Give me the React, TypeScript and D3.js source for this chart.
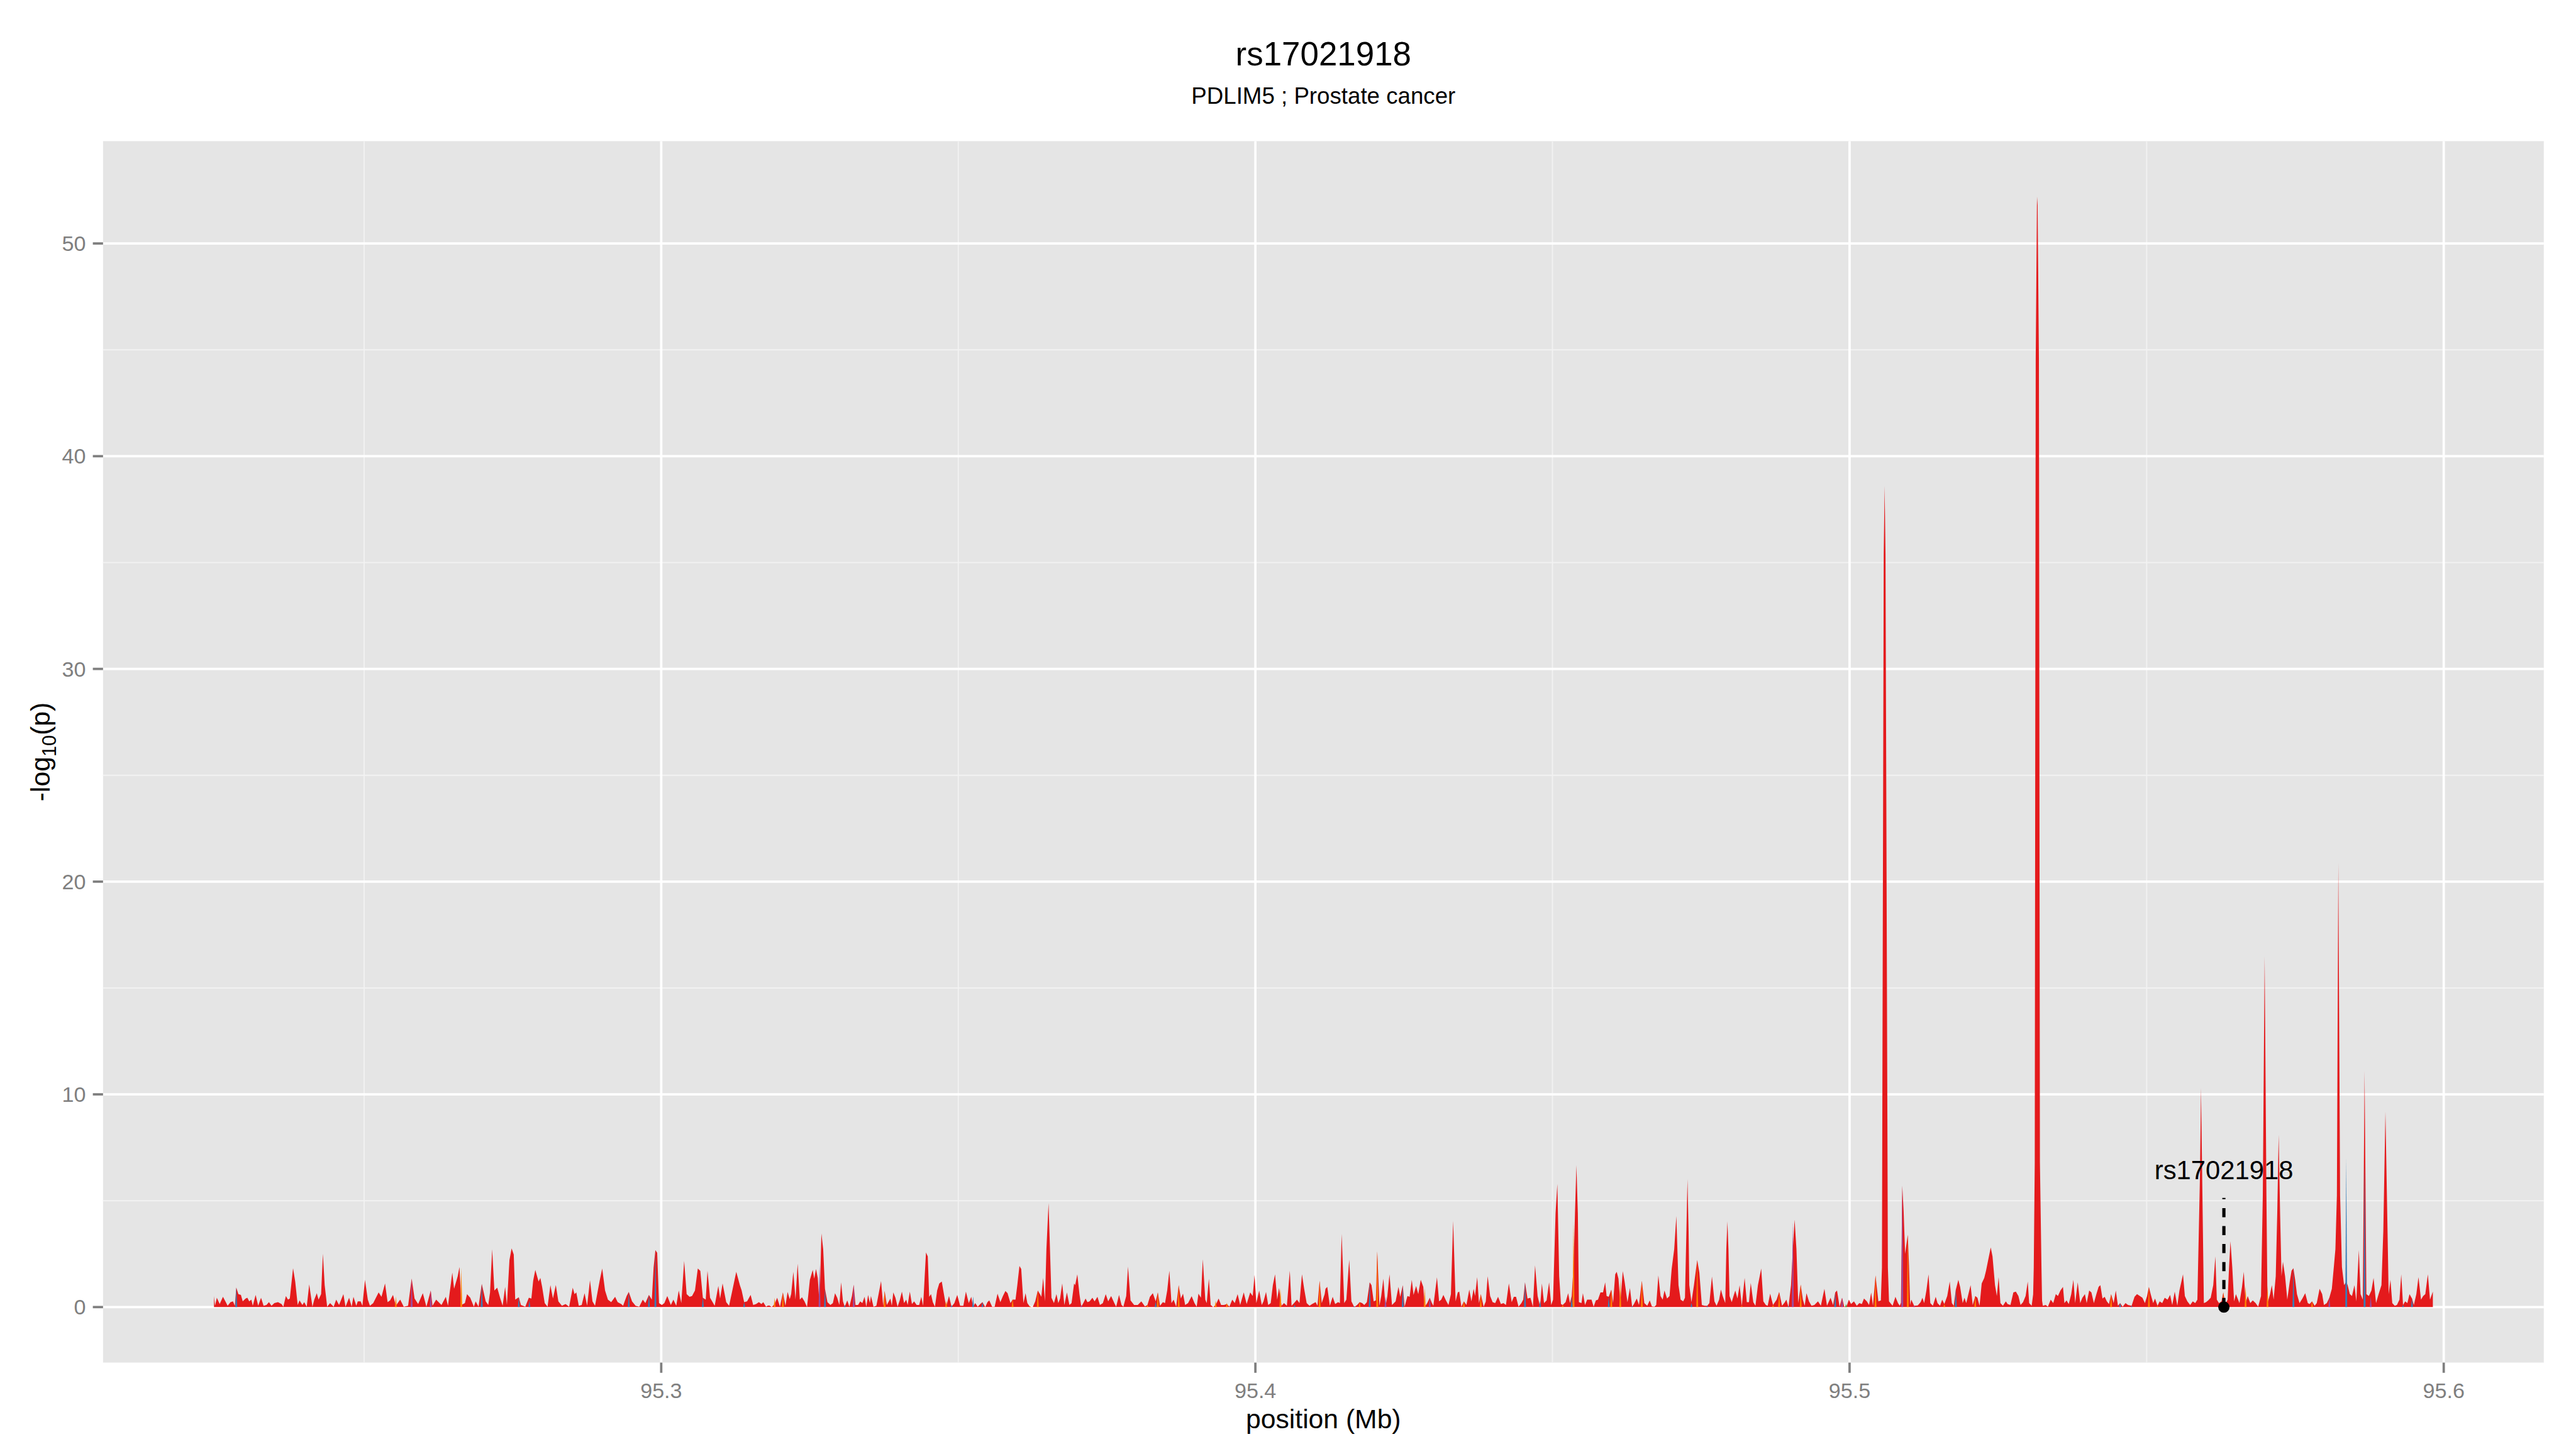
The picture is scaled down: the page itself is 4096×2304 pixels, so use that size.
import * as d3 from 'd3';

// -log10(p) along the region (position in Mb, value)
const assoc: [number, number][] = [
  [95.22473, 0.52], [95.22491, 0.06], [95.22521, 0.44], [95.22569, 0.14], [95.22624, 0.48], [95.22672, 0.23],
  [95.22703, 0.06], [95.22751, 0.23], [95.22793, 0.27], [95.22824, 0.06], [95.22848, 0.92], [95.22884, 0.61],
  [95.22926, 0.57], [95.22957, 0.27], [95.23005, 0.40], [95.23035, 0.44], [95.23066, 0.27], [95.23102, 0.35],
  [95.23126, 0.06], [95.23174, 0.57], [95.23217, 0.06], [95.23265, 0.44], [95.23308, 0.06], [95.23356, 0.10],
  [95.23398, 0.23], [95.23441, 0.06], [95.23489, 0.19], [95.23550, 0.23], [95.23610, 0.14], [95.23640, 0.02],
  [95.23683, 0.52], [95.23719, 0.35], [95.23749, 0.40], [95.23804, 1.83], [95.23840, 1.20], [95.23882, 0.10],
  [95.23913, 0.31], [95.23961, 0.10], [95.23991, 0.23], [95.24034, 0.02], [95.24076, 1.07], [95.24130, 0.02],
  [95.24161, 0.35], [95.24203, 0.65], [95.24233, 0.35], [95.24276, 0.61], [95.24306, 2.51], [95.24336, 1.03],
  [95.24378, 0.02], [95.24427, 0.19], [95.24487, 0.02], [95.24530, 0.35], [95.24578, 0.10], [95.24651, 0.61],
  [95.24687, 0.02], [95.24747, 0.44], [95.24790, 0.02], [95.24820, 0.48], [95.24868, 0.06], [95.24893, 0.27],
  [95.24941, 0.27], [95.24971, 0.06], [95.25014, 1.28], [95.25062, 0.35], [95.25098, 0.06], [95.25153, 0.19],
  [95.25244, 0.69], [95.25292, 0.48], [95.25352, 1.11], [95.25395, 0.23], [95.25437, 0.31], [95.25486, 0.57],
  [95.25534, 0.06], [95.25576, 0.23], [95.25607, 0.35], [95.25667, 0.02], [95.25740, 0.06], [95.25800, 1.34],
  [95.25849, 0.40], [95.25909, 0.14], [95.25988, 0.65], [95.26048, 0.02], [95.26121, 0.78], [95.26151, 0.06],
  [95.26212, 0.35], [95.26302, 0.10], [95.26375, 0.48], [95.26411, 0.06], [95.26484, 1.62], [95.26514, 0.86],
  [95.26575, 1.45], [95.26605, 1.89], [95.26635, 0.10], [95.26696, 0.19], [95.26732, 0.61], [95.26786, 0.44],
  [95.26847, 0.02], [95.26877, 0.27], [95.26925, 0.02], [95.26980, 1.09], [95.27046, 0.27], [95.27089, 0.10],
  [95.27119, 0.69], [95.27155, 2.72], [95.27192, 0.78], [95.27240, 0.91], [95.27288, 0.44], [95.27331, 0.06],
  [95.27373, 0.95], [95.27403, 0.10], [95.27446, 2.21], [95.27482, 2.76], [95.27518, 2.47], [95.27543, 0.35],
  [95.27603, 0.46], [95.27639, 0.10], [95.27712, 0.02], [95.27772, 0.44], [95.27815, 0.40], [95.27845, 1.24],
  [95.27881, 1.75], [95.27936, 1.20], [95.27966, 1.37], [95.27996, 0.95], [95.28039, 0.19], [95.28087, 0.02],
  [95.28135, 1.03], [95.28178, 0.40], [95.28226, 1.04], [95.28269, 0.27], [95.28329, 0.06], [95.28390, 0.14],
  [95.28450, 0.02], [95.28511, 0.91], [95.28541, 0.61], [95.28571, 0.69], [95.28613, 0.06], [95.28662, 0.10],
  [95.28710, 0.65], [95.28753, 0.06], [95.28801, 1.26], [95.28843, 0.27], [95.28886, 0.06], [95.28964, 1.24],
  [95.29007, 1.81], [95.29055, 0.78], [95.29103, 0.35], [95.29158, 0.23], [95.29224, 0.48], [95.29267, 0.23],
  [95.29327, 0.14], [95.29358, 0.06], [95.29418, 0.52], [95.29454, 0.71], [95.29509, 0.27], [95.29569, 0.06],
  [95.29630, 0.02], [95.29690, 0.35], [95.29733, 0.19], [95.29793, 0.57], [95.29842, 0.35], [95.29872, 1.86],
  [95.29902, 2.68], [95.29932, 2.55], [95.29963, 0.19], [95.30011, 0.10], [95.30053, 0.19], [95.30102, 0.52],
  [95.30162, 0.10], [95.30205, 0.35], [95.30253, 0.06], [95.30295, 0.78], [95.30338, 0.19], [95.30386, 2.17],
  [95.30428, 0.61], [95.30477, 0.48], [95.30519, 0.52], [95.30568, 0.78], [95.30616, 1.81], [95.30658, 1.70],
  [95.30701, 0.44], [95.30749, 0.35], [95.30779, 1.70], [95.30822, 0.44], [95.30900, 0.06], [95.30961, 0.99],
  [95.30991, 0.40], [95.31033, 1.11], [95.31094, 0.23], [95.31142, 0.06], [95.31203, 0.86], [95.31263, 1.66],
  [95.31324, 1.03], [95.31354, 0.78], [95.31396, 0.23], [95.31445, 0.27], [95.31505, 0.57], [95.31548, 0.10],
  [95.31596, 0.14], [95.31644, 0.23], [95.31687, 0.14], [95.31717, 0.23], [95.31765, 0.02],
  [95.31788, 0.06], [95.31818, 0.08], [95.31861, 0.00], [95.31909, 0.14], [95.31951, 0.44], [95.31999, 0.02],
  [95.32048, 0.69], [95.32091, 0.06], [95.32127, 0.71], [95.32163, 0.37], [95.32187, 0.61], [95.32224, 1.66],
  [95.32260, 0.35], [95.32296, 2.04], [95.32333, 0.35], [95.32369, 0.46], [95.32411, 0.27], [95.32454, 0.00],
  [95.32502, 1.28], [95.32550, 1.75], [95.32575, 1.33], [95.32605, 1.79], [95.32635, 1.37], [95.32665, 0.06],
  [95.32696, 3.46], [95.32726, 2.72], [95.32756, 0.86], [95.32798, 0.23], [95.32847, 0.10], [95.32889, 0.19],
  [95.32925, 0.65], [95.32962, 0.44], [95.32998, 0.10], [95.33028, 1.16], [95.33059, 0.27], [95.33089, 0.02],
  [95.33131, 0.31], [95.33167, 0.02], [95.33210, 0.52], [95.33240, 1.05], [95.33270, 0.10], [95.33313, 0.10],
  [95.33349, 0.27], [95.33385, 0.19], [95.33422, 0.48], [95.33452, 0.02], [95.33482, 0.57], [95.33512, 0.19],
  [95.33530, 0.52], [95.33573, 0.02], [95.33621, 0.06], [95.33664, 0.69], [95.33700, 1.22], [95.33736, 0.06],
  [95.33760, 0.76], [95.33797, 0.10], [95.33857, 0.40], [95.33881, 0.06], [95.33906, 0.69], [95.33942, 0.44],
  [95.33978, 0.02], [95.34014, 0.31], [95.34051, 0.73], [95.34087, 0.19], [95.34123, 0.35], [95.34148, 0.10],
  [95.34184, 0.73], [95.34220, 0.14], [95.34256, 0.27], [95.34299, 0.10], [95.34341, 0.10], [95.34377, 0.48],
  [95.34408, 0.06], [95.34456, 2.57], [95.34486, 2.38], [95.34510, 0.48], [95.34541, 0.61], [95.34571, 0.23],
  [95.34607, 0.02], [95.34644, 0.78], [95.34680, 1.11], [95.34722, 1.20], [95.34753, 0.69], [95.34795, 0.02],
  [95.34843, 0.52], [95.34886, 0.02], [95.34934, 0.19], [95.34982, 0.57], [95.35031, 0.06], [95.35085, 0.06],
  [95.35128, 0.73], [95.35176, 0.19], [95.35218, 0.48], [95.35249, 0.02], [95.35285, 0.19], [95.35327, 0.02],
  [95.35370, 0.14], [95.35406, 0.23], [95.35454, 0.00], [95.35491, 0.23], [95.35521, 0.31], [95.35569, 0.02],
  [95.35612, 0.02], [95.35660, 0.63], [95.35708, 0.23], [95.35751, 0.52], [95.35793, 0.76], [95.35829, 0.65],
  [95.35878, 0.19], [95.35914, 0.35], [95.35963, 0.35], [95.35993, 1.03], [95.36029, 1.93], [95.36059, 1.79],
  [95.36096, 0.19], [95.36132, 0.65], [95.36162, 0.19], [95.36205, 0.02], [95.36253, 0.00], [95.36295, 0.27],
  [95.36338, 0.78], [95.36374, 0.61], [95.36398, 0.48], [95.36428, 1.37], [95.36459, 0.27], [95.36483, 2.72],
  [95.36519, 4.89], [95.36543, 2.72], [95.36568, 0.44], [95.36610, 0.19], [95.36652, 0.61], [95.36683, 0.19],
  [95.36713, 0.40], [95.36749, 1.11], [95.36785, 0.10], [95.36828, 0.69], [95.36870, 0.10], [95.36906, 0.19],
  [95.36949, 1.11], [95.36967, 1.03], [95.37003, 1.54], [95.37039, 0.61], [95.37070, 0.02], [95.37112, 0.23],
  [95.37142, 0.40], [95.37173, 0.23], [95.37209, 0.27], [95.37257, 0.44], [95.37294, 0.27], [95.37342, 0.48],
  [95.37384, 0.10], [95.37433, 0.19], [95.37481, 0.61], [95.37523, 0.27], [95.37572, 0.52], [95.37626, 0.19],
  [95.37657, 0.02], [95.37705, 0.57], [95.37747, 0.10], [95.37778, 0.02], [95.37826, 0.52], [95.37856, 1.90],
  [95.37899, 0.31], [95.37959, 0.10], [95.38020, 0.10], [95.38080, 0.27], [95.38141, 0.03], [95.38183, 0.10],
  [95.38225, 0.48], [95.38274, 0.65], [95.38322, 0.27], [95.38358, 0.69], [95.38395, 0.06], [95.38443, 0.23],
  [95.38479, 0.19], [95.38516, 0.78], [95.38552, 1.71], [95.38588, 0.19], [95.38624, 0.35], [95.38667, 0.02],
  [95.38709, 1.03], [95.38746, 0.40], [95.38782, 0.63], [95.38818, 0.10], [95.38867, 0.19], [95.38927, 0.51],
  [95.38975, 0.19], [95.39012, 0.02], [95.39042, 0.63], [95.39084, 0.44], [95.39115, 2.25], [95.39157, 0.35],
  [95.39181, 0.19], [95.39217, 1.33], [95.39248, 0.10], [95.39290, 0.00], [95.39332, 0.10], [95.39381, 0.40],
  [95.39423, 0.10], [95.39472, 0.10], [95.39520, 0.14], [95.39562, 0.02], [95.39611, 0.35], [95.39653, 0.19],
  [95.39701, 0.61], [95.39744, 0.10], [95.39804, 0.69], [95.39853, 0.14], [95.39913, 0.69], [95.39955, 0.52],
  [95.39986, 1.51], [95.40016, 0.19], [95.40064, 0.78], [95.40107, 0.10], [95.40137, 0.27], [95.40179, 0.71],
  [95.40216, 0.10], [95.40258, 0.19], [95.40294, 1.03], [95.40331, 1.54], [95.40367, 0.35], [95.40397, 0.90],
  [95.40440, 0.06], [95.40482, 0.19], [95.40530, 0.06], [95.40579, 1.71], [95.40609, 0.06], [95.40651, 0.19],
  [95.40700, 0.35], [95.40742, 0.19], [95.40784, 1.54], [95.40821, 0.86], [95.40863, 0.19], [95.40911, 0.06],
  [95.40954, 0.14], [95.41014, 0.23], [95.41045, 0.06], [95.41081, 1.24], [95.41117, 0.19], [95.41166, 0.61],
  [95.41180, 0.86], [95.41210, 0.95], [95.41253, 0.06], [95.41301, 0.48], [95.41343, 0.14], [95.41392, 0.23],
  [95.41422, 0.19], [95.41452, 3.44], [95.41495, 0.19], [95.41531, 0.35], [95.41579, 2.23], [95.41616, 0.27],
  [95.41664, 0.00], [95.41712, 0.10], [95.41755, 0.23], [95.41797, 0.19], [95.41833, 0.10], [95.41876, 0.23],
  [95.41924, 1.16], [95.41954, 1.03], [95.41991, 0.27], [95.42027, 0.31], [95.42051, 2.62], [95.42088, 0.06],
  [95.42118, 0.52], [95.42154, 1.33], [95.42190, 0.02], [95.42221, 0.52], [95.42257, 1.54], [95.42299, 0.10],
  [95.42360, 0.27], [95.42408, 0.95], [95.42438, 0.48], [95.42481, 1.03], [95.42511, 0.02], [95.42559, 0.52],
  [95.42596, 0.48], [95.42632, 1.28], [95.42662, 0.57], [95.42705, 0.99], [95.42741, 0.61], [95.42783, 1.28],
  [95.42826, 0.95], [95.42850, 0.02], [95.42892, 0.19], [95.42935, 0.44], [95.42971, 0.19], [95.42995, 0.06],
  [95.43056, 1.40], [95.43092, 0.27], [95.43128, 0.35], [95.43164, 0.57], [95.43207, 0.31], [95.43249, 0.10],
  [95.43291, 0.61], [95.43328, 4.05], [95.43370, 0.27], [95.43406, 0.69], [95.43431, 0.73], [95.43467, 0.02],
  [95.43509, 0.27], [95.43552, 0.10], [95.43600, 0.82], [95.43636, 0.27], [95.43673, 0.86], [95.43697, 0.52],
  [95.43733, 1.41], [95.43763, 0.19], [95.43794, 0.61], [95.43842, 0.02], [95.43878, 0.27], [95.43909, 1.45],
  [95.43951, 0.52], [95.43993, 0.23], [95.44036, 0.19], [95.44084, 0.48], [95.44132, 0.14], [95.44175, 0.19],
  [95.44217, 0.10], [95.44266, 1.11], [95.44314, 0.23], [95.44350, 0.48], [95.44387, 0.48], [95.44429, 0.02],
  [95.44477, 0.19], [95.44508, 0.35], [95.44538, 1.16], [95.44580, 0.40], [95.44629, 0.44], [95.44671, 0.02],
  [95.44707, 1.96], [95.44750, 0.52], [95.44792, 0.02], [95.44822, 1.11], [95.44858, 0.19], [95.44901, 0.31],
  [95.44943, 1.16], [95.44979, 0.10], [95.45010, 0.35], [95.45052, 4.41], [95.45082, 5.79], [95.45113, 1.45],
  [95.45143, 0.14], [95.45173, 0.10], [95.45221, 0.23], [95.45264, 0.65], [95.45294, 0.19], [95.45324, 0.52],
  [95.45354, 1.88], [95.45379, 4.41], [95.45403, 6.67], [95.45427, 4.41], [95.45445, 0.23], [95.45488, 0.19],
  [95.45512, 0.65], [95.45548, 0.10], [95.45584, 0.35], [95.45657, 0.35], [95.45693, 0.02], [95.45730, 0.31],
  [95.45766, 0.35], [95.45808, 0.69], [95.45851, 0.69], [95.45887, 1.16], [95.45911, 0.52], [95.45947, 0.48],
  [95.45990, 0.82], [95.46020, 0.19], [95.46056, 1.54], [95.46081, 1.66], [95.46111, 1.33], [95.46141, 0.19],
  [95.46183, 1.69], [95.46214, 1.20], [95.46262, 0.23], [95.46304, 0.90], [95.46341, 0.02], [95.46371, 0.14],
  [95.46419, 0.40], [95.46456, 0.10], [95.46504, 1.24], [95.46546, 0.19], [95.46595, 0.06], [95.46637, 0.31],
  [95.46673, 0.03], [95.46716, 0.02], [95.46746, 0.10], [95.46782, 1.49], [95.46819, 0.52], [95.46855, 0.35],
  [95.46885, 0.78], [95.46928, 0.40], [95.46970, 0.52], [95.47006, 1.79], [95.47049, 2.72], [95.47085, 4.28],
  [95.47121, 1.03], [95.47157, 0.35], [95.47200, 0.27], [95.47230, 0.44], [95.47254, 3.56], [95.47272, 6.01],
  [95.47291, 3.56], [95.47303, 1.03], [95.47339, 0.23], [95.47381, 1.03], [95.47436, 2.21], [95.47472, 1.62],
  [95.47514, 0.10], [95.47563, 0.06], [95.47605, 0.06], [95.47641, 0.19], [95.47684, 1.44], [95.47726, 0.27],
  [95.47762, 0.06], [95.47805, 0.35], [95.47835, 0.82], [95.47865, 0.52], [95.47908, 0.19], [95.47926, 2.72],
  [95.47944, 4.03], [95.47962, 2.72], [95.47980, 0.52], [95.48017, 0.23], [95.48047, 0.52], [95.48077, 0.78],
  [95.48113, 0.40], [95.48150, 1.03], [95.48186, 0.06], [95.48234, 1.37], [95.48271, 0.23], [95.48307, 0.23],
  [95.48337, 1.13], [95.48380, 0.23], [95.48416, 0.06], [95.48458, 1.03], [95.48513, 1.81], [95.48549, 0.27],
  [95.48591, 0.10], [95.48622, 0.06], [95.48664, 0.63], [95.48712, 0.10], [95.48773, 0.35], [95.48815, 0.71],
  [95.48864, 0.06], [95.48912, 0.23], [95.48936, 0.35], [95.48972, 0.00], [95.49015, 1.03], [95.49045, 2.72],
  [95.49075, 4.11], [95.49106, 2.72], [95.49136, 0.19], [95.49178, 1.06], [95.49214, 0.35], [95.49245, 0.06],
  [95.49275, 0.65], [95.49317, 0.27], [95.49360, 0.06], [95.49408, 0.10], [95.49469, 0.27], [95.49517, 0.06],
  [95.49577, 0.86], [95.49620, 0.06], [95.49680, 0.44], [95.49723, 0.10], [95.49759, 0.69], [95.49789, 0.78],
  [95.49832, 0.02], [95.49874, 0.44], [95.49910, 0.02], [95.49953, 0.06], [95.49989, 0.35], [95.50025, 0.14],
  [95.50074, 0.27], [95.50122, 0.06], [95.50164, 0.19], [95.50207, 0.14], [95.50243, 0.40], [95.50291, 0.27],
  [95.50328, 0.10], [95.50364, 0.68], [95.50394, 0.06], [95.50437, 1.49], [95.50485, 0.27], [95.50527, 0.31],
  [95.50545, 1.85], [95.50575, 35.4], [95.50590, 38.6], [95.50605, 35.4], [95.50645, 1.85], [95.50664, 0.27],
  [95.50724, 0.06], [95.50772, 0.48], [95.50815, 0.19], [95.50845, 0.06], [95.50865, 0.20], [95.50887, 5.70],
  [95.50910, 4.50], [95.50935, 2.50], [95.50960, 3.00], [95.50980, 3.40], [95.51000, 2.00], [95.51020, 0.10],
  [95.51039, 0.35], [95.51087, 0.06], [95.51148, 0.08], [95.51196, 0.23], [95.51226, 0.44], [95.51256, 0.19],
  [95.51293, 0.78], [95.51329, 1.54], [95.51359, 0.19], [95.51402, 0.06], [95.51450, 0.48], [95.51480, 0.19],
  [95.51523, 0.06], [95.51559, 0.35], [95.51595, 0.14], [95.51644, 0.52], [95.51686, 1.20], [95.51722, 0.19],
  [95.51753, 0.06], [95.51789, 0.82], [95.51831, 1.28], [95.51861, 0.95], [95.51904, 0.19], [95.51934, 0.44],
  [95.51964, 0.19], [95.52000, 0.61], [95.52037, 1.03], [95.52073, 0.10], [95.52116, 0.52], [95.52152, 0.44],
  [95.52188, 0.06], [95.52224, 1.11], [95.52267, 1.37], [95.52297, 1.71], [95.52333, 2.21], [95.52376, 2.80],
  [95.52406, 2.38], [95.52448, 1.03], [95.52479, 0.52], [95.52509, 1.41], [95.52539, 0.19], [95.52581, 0.06],
  [95.52630, 0.27], [95.52660, 0.14], [95.52708, 0.10], [95.52757, 0.69], [95.52799, 0.73], [95.52842, 0.52],
  [95.52878, 0.10], [95.52920, 0.23], [95.52963, 0.52], [95.52999, 1.20], [95.53023, 0.19], [95.53065, 0.06],
  [95.53090, 0.60], [95.53100, 1.85], [95.53117, 6.80], [95.53133, 44.6], [95.53155, 52.2], [95.53165, 51.8],
  [95.53187, 44.6], [95.53204, 6.80], [95.53230, 1.85], [95.53240, 0.30],
  [95.53253, 0.06], [95.53301, 0.10], [95.53338, 0.02], [95.53386, 0.35], [95.53428, 0.19], [95.53471, 0.61],
  [95.53507, 0.52], [95.53549, 0.78], [95.53592, 0.95], [95.53616, 0.19], [95.53652, 0.31], [95.53689, 0.14],
  [95.53731, 0.61], [95.53767, 1.28], [95.53797, 0.19], [95.53840, 1.16], [95.53882, 0.19], [95.53918, 0.44],
  [95.53961, 0.61], [95.53991, 0.19], [95.54033, 0.78], [95.54070, 0.69], [95.54112, 0.19], [95.54154, 0.61],
  [95.54191, 0.95], [95.54221, 1.03], [95.54257, 0.40], [95.54294, 0.48], [95.54330, 0.27], [95.54366, 0.14],
  [95.54402, 0.61], [95.54445, 0.19], [95.54481, 0.78], [95.54517, 0.06], [95.54554, 0.19], [95.54596, 0.02],
  [95.54644, 0.19], [95.54687, 0.10], [95.54747, 0.06], [95.54796, 0.48], [95.54838, 0.61], [95.54886, 0.52],
  [95.54929, 0.44], [95.54971, 0.19], [95.55007, 0.52], [95.55038, 0.95], [95.55068, 0.61], [95.55110, 0.19],
  [95.55141, 0.40], [95.55183, 0.06], [95.55219, 0.27], [95.55262, 0.19], [95.55304, 0.44], [95.55352, 0.35],
  [95.55395, 0.57], [95.55431, 0.10], [95.55473, 0.73], [95.55516, 0.06], [95.55552, 0.78], [95.55612, 1.54],
  [95.55643, 0.52], [95.55685, 0.27], [95.55733, 0.10], [95.55776, 0.27], [95.55818, 0.19], [95.55854, 0.35],
  [95.55897, 6.10], [95.55915, 10.3], [95.55939, 5.25], [95.55963, 0.19], [95.56000, 0.23], [95.56036, 0.31],
  [95.56078, 0.44], [95.56121, 1.03], [95.56157, 2.38], [95.56181, 0.35], [95.56217, 0.19], [95.56260, 0.27],
  [95.56290, 0.69], [95.56326, 0.14], [95.56363, 0.35], [95.56387, 1.88], [95.56411, 3.10], [95.56441, 1.88],
  [95.56472, 0.27], [95.56502, 0.61], [95.56532, 0.40], [95.56562, 0.19], [95.56605, 0.95], [95.56635, 1.66],
  [95.56665, 0.19], [95.56701, 0.52], [95.56744, 0.19], [95.56786, 0.31], [95.56834, 0.19], [95.56877, 0.02],
  [95.56925, 0.52], [95.56955, 5.25], [95.56986, 16.5], [95.57016, 5.25], [95.57034, 0.19], [95.57077, 0.61],
  [95.57107, 1.03], [95.57137, 0.35], [95.57173, 1.45], [95.57198, 4.41], [95.57222, 8.10], [95.57246, 4.41],
  [95.57270, 1.45], [95.57294, 2.13], [95.57330, 1.45], [95.57367, 0.35], [95.57409, 1.20], [95.57439, 1.71],
  [95.57470, 1.83], [95.57500, 1.28], [95.57530, 0.61], [95.57573, 0.19], [95.57621, 0.40], [95.57669, 0.65],
  [95.57712, 0.19], [95.57742, 0.14], [95.57784, 0.27], [95.57827, 0.06], [95.57863, 0.19], [95.57911, 0.86],
  [95.57954, 0.61], [95.57984, 0.10], [95.58032, 0.19], [95.58075, 0.44], [95.58117, 0.86], [95.58153, 1.96],
  [95.58177, 2.72], [95.58202, 5.25], [95.58226, 20.9], [95.58256, 5.25], [95.58287, 1.88], [95.58323, 1.03],
  [95.58359, 1.20], [95.58383, 1.03], [95.58420, 0.61], [95.58456, 0.52], [95.58498, 1.03], [95.58529, 0.27],
  [95.58571, 2.68], [95.58601, 0.61], [95.58638, 0.35], [95.58668, 11.1], [95.58698, 0.61], [95.58740, 0.52],
  [95.58783, 0.78], [95.58819, 1.37], [95.58861, 0.19], [95.58904, 0.61], [95.58952, 1.03], [95.58983, 3.56],
  [95.59019, 9.18], [95.59049, 4.41], [95.59073, 0.61], [95.59103, 1.28], [95.59134, 0.19], [95.59176, 0.06],
  [95.59212, 0.10], [95.59255, 0.35], [95.59285, 1.54], [95.59315, 0.10], [95.59351, 0.27], [95.59388, 0.19],
  [95.59424, 0.61], [95.59466, 0.40], [95.59497, 0.10], [95.59539, 0.61], [95.59575, 1.41], [95.59618, 0.35],
  [95.59654, 0.52], [95.59690, 0.61], [95.59733, 1.54], [95.59769, 0.35], [95.59817, 0.73],
];

// SNPs in the other LD bins (position in Mb, -log10 p)
const ldBlue: [number, number][] = [
  [95.22848, 0.92], [95.26980, 1.09], [95.27603, 0.46], [95.27782, 0.30], [95.29454, 0.71], [95.29793, 0.57],
  [95.29902, 2.68], [95.30701, 0.47], [95.31396, 0.23], [95.32756, 0.86], [95.33089, 0.10], [95.34886, 0.10],
  [95.35249, 0.50], [95.35406, 0.23], [95.38322, 0.27], [95.40660, 0.10], [95.41664, 0.05], [95.41924, 1.16],
  [95.42481, 1.00], [95.44538, 1.16], [95.44792, 0.30], [95.45324, 0.50], [95.45947, 0.48], [95.46341, 0.05],
  [95.47339, 0.20], [95.47605, 0.06], [95.48972, 0.05], [95.49759, 0.69], [95.51789, 0.82], [95.54554, 0.19],
  [95.54747, 0.06], [95.57470, 1.83], [95.58359, 7.00], [95.58668, 6.80], [95.59315, 0.10], [95.59466, 0.40],
];
const ldOrange: [number, number][] = [
  [95.25534, 0.50], [95.26635, 1.85], [95.31909, 0.44], [95.32048, 0.69], [95.33760, 0.76], [95.34795, 0.30],
  [95.35914, 0.40], [95.36205, 0.05], [95.36338, 0.78], [95.38183, 0.10], [95.38358, 0.69], [95.38709, 1.03],
  [95.39332, 0.30], [95.39520, 0.20], [95.40421, 0.90], [95.41081, 1.24], [95.41755, 0.23], [95.42051, 2.62],
  [95.42850, 0.90], [95.43509, 0.27], [95.43794, 0.60], [95.45173, 0.10], [95.45354, 4.00], [95.45990, 0.82],
  [95.46141, 1.30], [95.46504, 1.24], [95.47436, 2.21], [95.48186, 0.06], [95.48712, 0.10], [95.48815, 0.71],
  [95.49178, 1.06], [95.50437, 1.49], [95.50980, 3.40], [95.51595, 0.14], [95.51753, 0.06], [95.52116, 0.52],
  [95.54402, 0.61], [95.55038, 0.95], [95.55183, 0.06], [95.56290, 0.69], [95.56665, 1.00], [95.57034, 1.00],
  [95.57784, 0.27],
];
const ldPurple: [number, number][] = [
  [95.25800, 1.34], [95.26121, 0.78], [95.32665, 2.00], [95.33240, 1.05], [95.37070, 0.10], [95.42190, 0.50],
  [95.42935, 0.44], [95.49045, 4.00], [95.49874, 0.44], [95.50887, 5.70], [95.51087, 0.06], [95.58075, 0.44],
  [95.58771, 0.50],
];
const ldGreen: [number, number][] = [[95.49940, 0.15]];

const xTicks = [95.3, 95.4, 95.5, 95.6];
const xMinorTicks = [95.25, 95.35, 95.45, 95.55];
const yTicks = [0, 10, 20, 30, 40, 50];
const yMinorTicks = [5, 15, 25, 35, 45];

const leadSnp = { id: 'rs17021918', pos: 95.563, labelAt: 6.45, lineTop: 5.13 };
const plotTitle = 'rs17021918';
const plotSubtitle = 'PDLIM5 ; Prostate cancer';

const W = 4800;
const H = 2700;
const panel = { left: 192, right: 4740, top: 263, bottom: 2539 };
const font = '"Liberation Sans", Arial, Helvetica, sans-serif';
const grey50 = '#7F7F7F';
const spikeHalf = 0.00016;

export default function App() {
  const xExt = d3.extent(assoc, d => d[0]) as [number, number];
  const xPad = (xExt[1] - xExt[0]) * 0.05;
  const x = d3.scaleLinear().domain([xExt[0] - xPad, xExt[1] + xPad]).range([panel.left, panel.right]);

  const yMax = d3.max(assoc, d => d[1]) as number;
  const yPad = yMax * 0.05;
  const y = d3.scaleLinear().domain([-yPad, yMax + yPad]).range([panel.bottom, panel.top]);

  const area = d3.area<[number, number]>()
    .x(d => x(d[0]))
    .y0(y(0))
    .y1(d => y(d[1]));

  const spike = (d: [number, number]) =>
    area([[d[0] - spikeHalf, 0], [d[0], d[1]], [d[0] + spikeHalf, 0]]) || '';

  const sorted = [...assoc].sort((a, b) => a[0] - b[0]);
  const midX = (panel.left + panel.right) / 2;
  const midY = (panel.top + panel.bottom) / 2;

  const layers: { data: [number, number][]; color: string }[] = [
    { data: ldOrange, color: '#FF7F00' },
    { data: ldBlue, color: '#377EB8' },
    { data: ldPurple, color: '#984EA3' },
    { data: ldGreen, color: '#4DAF4A' },
  ];

  return (
    <svg
      width={4096}
      height={2304}
      viewBox={`0 0 ${W} ${H}`}
      style={{ position: 'absolute', left: 0, top: 0, display: 'block', background: '#fff' }}
      fontFamily={font}
    >
      <rect x={0} y={0} width={W} height={H} fill="#fff" />
      <rect x={panel.left} y={panel.top} width={panel.right - panel.left} height={panel.bottom - panel.top} fill="#E5E5E5" />

      {/* grid */}
      {yMinorTicks.map(t => (
        <line key={`ym${t}`} x1={panel.left} x2={panel.right} y1={y(t)} y2={y(t)} stroke="#F2F2F2" strokeWidth={2.2} />
      ))}
      {xMinorTicks.map(t => (
        <line key={`xm${t}`} x1={x(t)} x2={x(t)} y1={panel.top} y2={panel.bottom} stroke="#F2F2F2" strokeWidth={2.2} />
      ))}
      {yTicks.map(t => (
        <line key={`yg${t}`} x1={panel.left} x2={panel.right} y1={y(t)} y2={y(t)} stroke="#fff" strokeWidth={4.4} />
      ))}
      {xTicks.map(t => (
        <line key={`xg${t}`} x1={x(t)} x2={x(t)} y1={panel.top} y2={panel.bottom} stroke="#fff" strokeWidth={4.4} />
      ))}

      {/* association signal */}
      <path d={area(sorted) || ''} fill="#E41A1C" />
      {layers.map(l => (
        <g key={l.color}>
          {l.data.map(d => (
            <path key={d[0]} d={spike(d)} fill={l.color} />
          ))}
        </g>
      ))}

      {/* lead SNP */}
      <line
        x1={x(leadSnp.pos)} x2={x(leadSnp.pos)}
        y1={y(0)} y2={y(leadSnp.lineTop)}
        stroke="#000" strokeWidth={6} strokeDasharray="17 16.5"
      />
      <circle cx={x(leadSnp.pos)} cy={y(0)} r={10.5} fill="#000" />
      <text x={x(leadSnp.pos)} y={y(leadSnp.labelAt)} dy="0.35em" textAnchor="middle" fontSize={49} fill="#000">
        {leadSnp.id}
      </text>

      {/* y axis */}
      {yTicks.map(t => (
        <g key={`yt${t}`}>
          <line x1={panel.left - 19} x2={panel.left} y1={y(t)} y2={y(t)} stroke={grey50} strokeWidth={4.4} />
          <text x={160} y={y(t)} dy="0.35em" textAnchor="end" fontSize={40} fill={grey50}>{t}</text>
        </g>
      ))}
      {/* x axis */}
      {xTicks.map(t => (
        <g key={`xt${t}`}>
          <line x1={x(t)} x2={x(t)} y1={panel.bottom} y2={panel.bottom + 19} stroke={grey50} strokeWidth={4.4} />
          <text x={x(t)} y={2605} textAnchor="middle" fontSize={40} fill={grey50}>{t.toFixed(1)}</text>
        </g>
      ))}

      <text x={midX} y={2661} textAnchor="middle" fontSize={50} fill="#000">position (Mb)</text>
      <text transform={`translate(92, ${midY}) rotate(-90)`} textAnchor="middle" fontSize={50} fill="#000">
        -log<tspan fontSize={36} dy={12}>10</tspan><tspan dy={-12}>(p)</tspan>
      </text>

      <text x={midX} y={122} textAnchor="middle" fontSize={62} fill="#000">{plotTitle}</text>
      <text x={midX} y={193} textAnchor="middle" fontSize={43} fill="#000">{plotSubtitle}</text>
    </svg>
  );
}
